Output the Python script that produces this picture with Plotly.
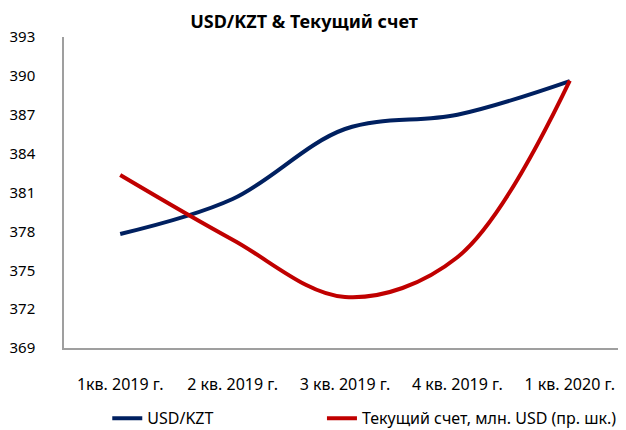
import plotly.graph_objects as go

categories = ["1кв. 2019 г.", "2 кв. 2019 г.", "3 кв. 2019 г.", "4 кв. 2019 г.", "1 кв. 2020 г."]
usd_kzt = [377.8, 380.5, 385.9, 387.0, 389.6]
current_account = [-220, -1260, -2180, -1540, 1300]  # mln USD, right (hidden) scale
y_ticks = [369, 372, 375, 378, 381, 384, 387, 390, 393]

FONT = "Noto Sans"
AXIS_GRAY = "#9f9f9f"

fig = go.Figure()
fig.add_trace(go.Scatter(
    x=categories, y=usd_kzt, name="USD/KZT", mode="lines", legend="legend",
    line=dict(color="#002060", width=4, shape="spline", smoothing=1.0),
))
fig.add_trace(go.Scatter(
    x=categories, y=current_account, name="Текущий счет, млн. USD (пр. шк.)",
    mode="lines", yaxis="y2", legend="legend2",
    line=dict(color="#C00000", width=4, shape="spline", smoothing=1.0),
))

# page is rendered with an 8px body margin, so the figure is 8px smaller
fig.update_layout(
    width=618, height=422,
    margin=dict(l=56, r=0, t=29, b=82, autoexpand=False),
    paper_bgcolor="white", plot_bgcolor="white",
    font=dict(family=FONT, size=16, color="#000000"),
    title=dict(text="<b>USD/KZT & Текущий счет</b>", x=0.479, xanchor="center",
               y=0.967, yanchor="middle", font=dict(family=FONT, size=18)),
    xaxis=dict(
        type="category", showgrid=False, showline=True, linecolor=AXIS_GRAY,
        linewidth=1.5, ticks="", ticklabelstandoff=21, zeroline=False,
        range=[-0.5, 4.5], automargin=False, tickfont=dict(size=16),
    ),
    yaxis=dict(
        range=[369, 393], tickvals=y_ticks, showgrid=False, showline=True,
        linecolor=AXIS_GRAY, linewidth=1.5, ticks="", ticklabelstandoff=24,
        zeroline=False, automargin=False, tickfont=dict(size=15),
    ),
    yaxis2=dict(
        range=[-3000, 2000], overlaying="y", side="right", visible=False,
        showgrid=False, zeroline=False, automargin=False,
    ),
    showlegend=True,
    legend=dict(orientation="h", x=0.077, xanchor="left", y=-0.226, yanchor="middle",
                font=dict(family=FONT, size=16), bgcolor="rgba(0,0,0,0)"),
    legend2=dict(orientation="h", x=0.459, xanchor="left", y=-0.226, yanchor="middle",
                 font=dict(family=FONT, size=16), bgcolor="rgba(0,0,0,0)"),
)

fig.write_html("out.html")
